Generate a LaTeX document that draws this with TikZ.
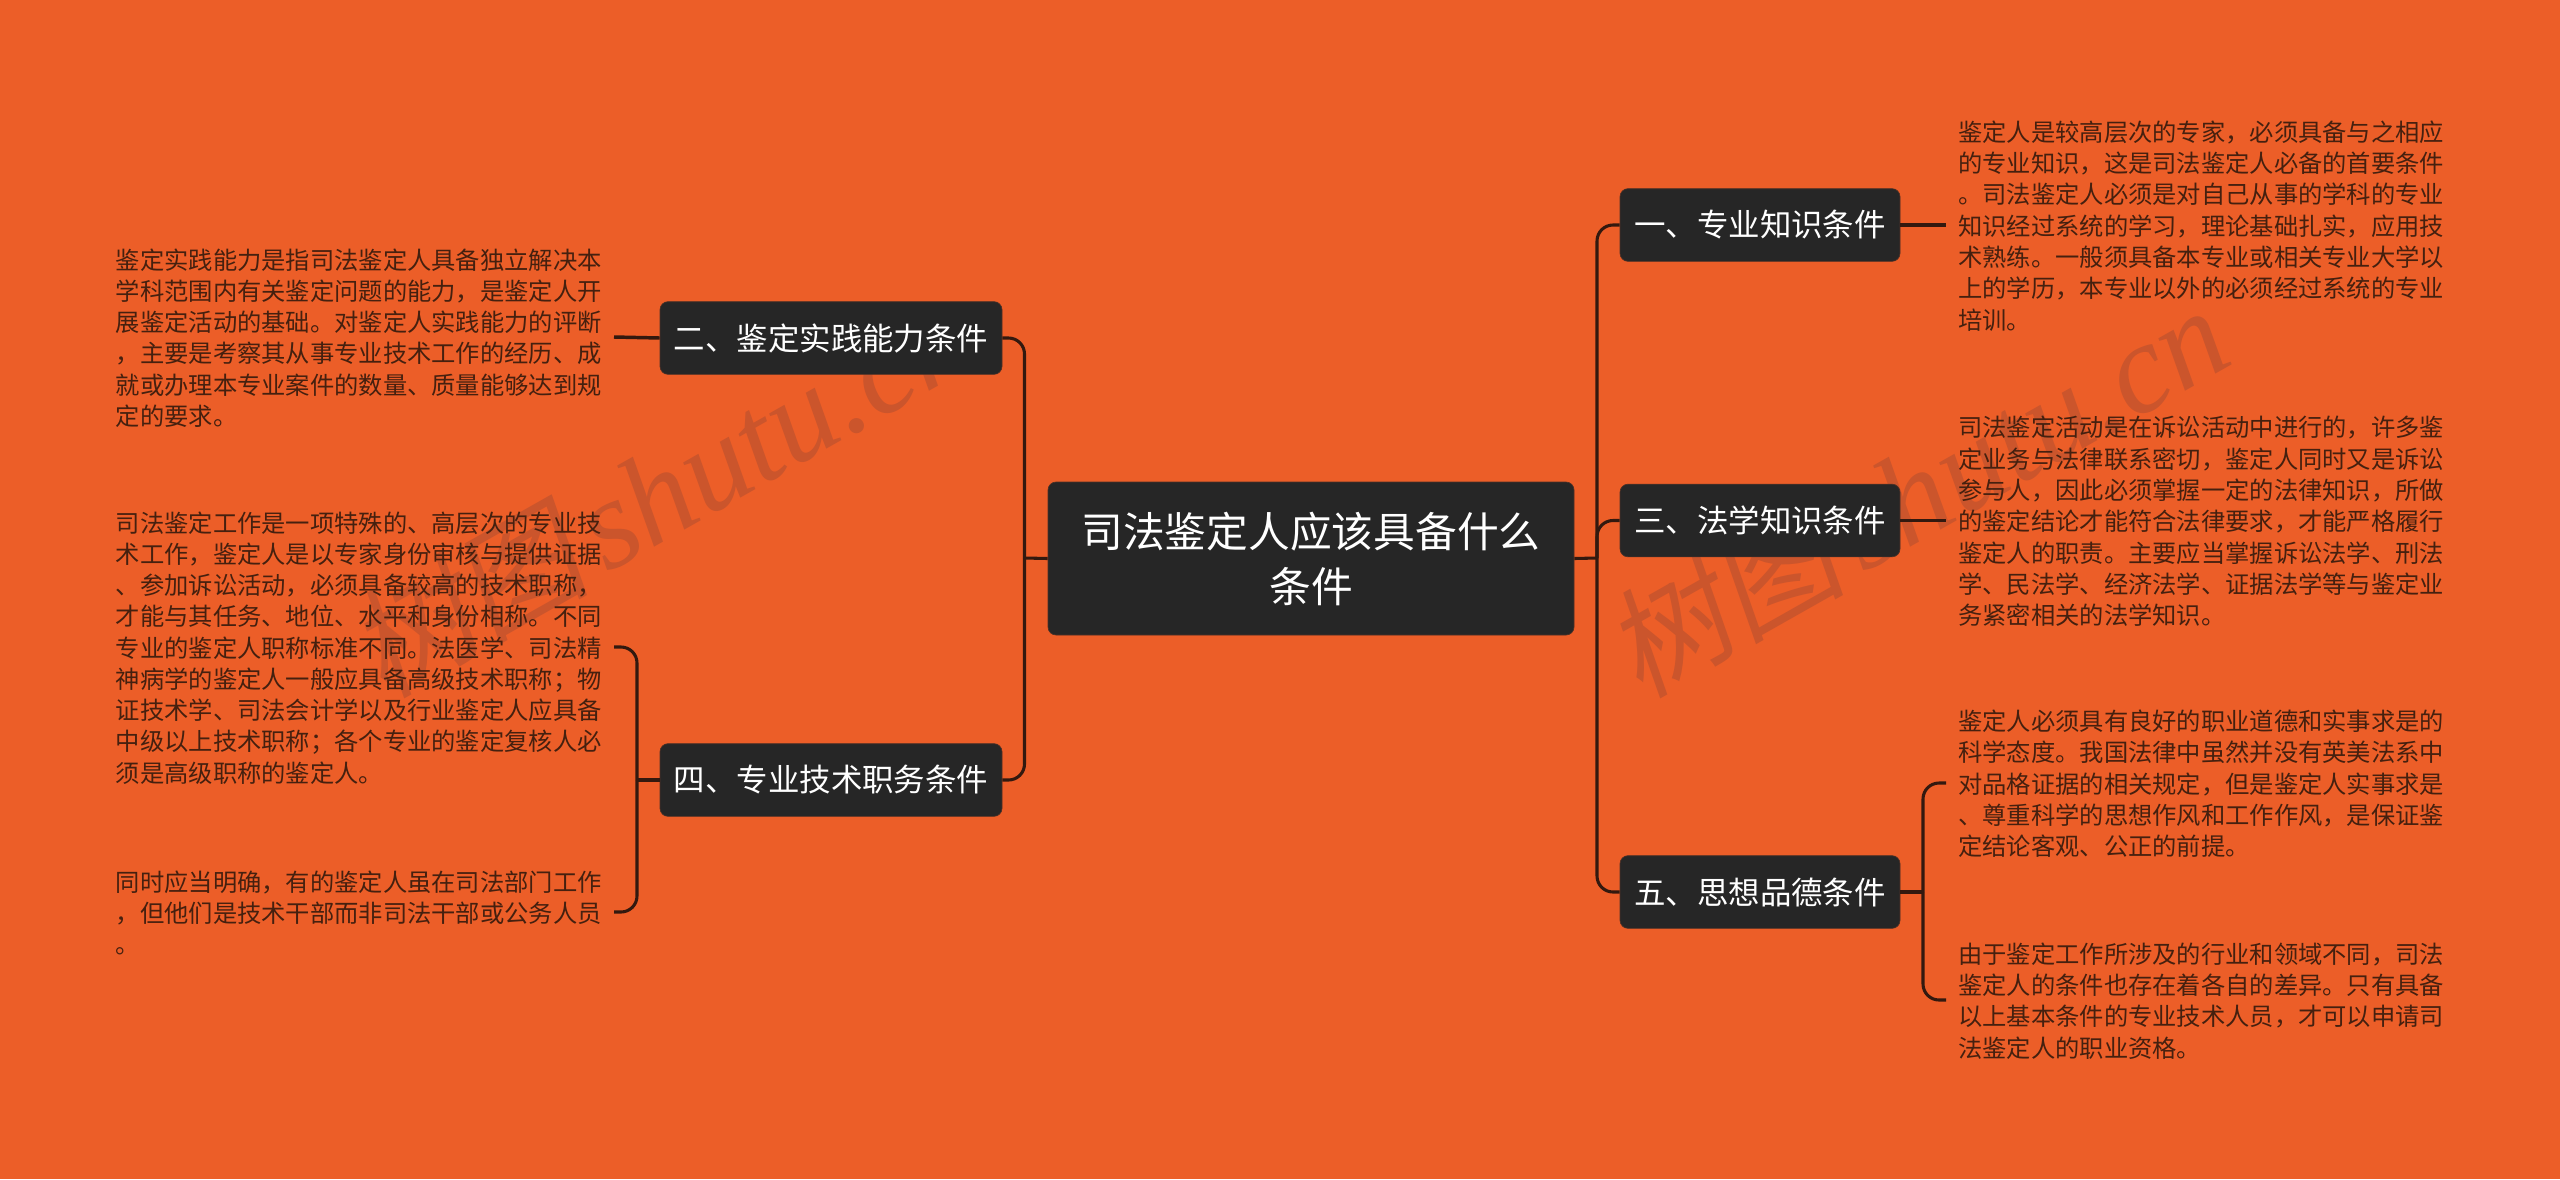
\documentclass[tikz,border=0pt]{standalone}
\usepackage{fontspec}
\setmainfont{Noto Sans CJK SC}
\newfontfamily\wmcjk[FakeSlant=0.18]{Noto Sans CJK SC}
\newfontfamily\wmlat{Liberation Serif}
\definecolor{bgc}{HTML}{EC5E28}
\definecolor{nodefill}{HTML}{262626}
\definecolor{wire}{HTML}{33190F}
\definecolor{leaftxt}{HTML}{45200F}
\definecolor{markc}{HTML}{CB552C}
\newcommand{\wmtext}{{\wmcjk 树图}\hspace{12pt}{\fontsize{96}{96}\selectfont\wmlat\itshape shutu.cn}}
\tikzset{
  rootbox/.style={rectangle,rounded corners=6pt,fill=nodefill,draw=nodefill!80!bgc,line width=0.5pt,text=white,
    minimum width=394.5pt,minimum height=114.75pt,inner sep=0pt,align=center,
    font=\fontsize{31.3}{41.25}\selectfont},
  branchbox/.style={rectangle,rounded corners=6pt,fill=nodefill,draw=nodefill!80!bgc,line width=0.5pt,text=white,
    minimum height=54.5pt,inner sep=0pt,font=\fontsize{23.6}{28}\selectfont},
  leftbranch/.style={branchbox,minimum width=256.5pt},
  rightbranch/.style={branchbox,minimum width=210pt},
  leaftext/.style={rectangle,inner ysep=0pt,inner xsep=9pt,align=left,text=leaftxt,
    font=\fontsize{18.22}{23.44}\selectfont},
  leafright/.style={leaftext,anchor=west},
  leafleft/.style={leaftext,anchor=east},
  wirestyle/.style={draw=wire,line width=2.3pt},
  elbow/.style={wirestyle,rounded corners=12pt},
  stub/.style={draw=wire,line width=2.6pt},
  markstyle/.style={text=markc,anchor=base west,rotate=29.5,inner sep=0pt,font=\fontsize{90}{90}\selectfont}
}
\newcommand{\ltop}{\rule{0pt}{16.8pt}}
\begin{document}
\begin{tikzpicture}[x=0.75pt,y=-0.75pt]
\fill[bgc] (0,0) rectangle (2560,1179);
\useasboundingbox (0,0) rectangle (2560,1179);
% watermarks
\node[markstyle] (mkr) at (1640,700) {\wmtext};
\node[markstyle] (mkl) at (384,700) {\wmtext};
% coordinates of the spines
\coordinate (rsp) at (1597,558);
\coordinate (lsp) at (1024.5,558);
\coordinate (fsp) at (1923,892);
\coordinate (ssp) at (637,780);
% nodes
\node[rootbox] (root) at (1311,558.5) {司法鉴定人应该具备什么\\条件};
\node[leftbranch] (b2) at (831,338) {二、鉴定实践能力条件};
\node[leftbranch] (b4) at (831,780) {四、专业技术职务条件};
\node[rightbranch] (b1) at (1760,225) {一、专业知识条件};
\node[rightbranch] (b3) at (1760,520.5) {三、法学知识条件};
\node[rightbranch] (b5) at (1760,892) {五、思想品德条件};
% leaves
\node[leafleft] (l2) at (614,337) {\ltop 鉴定实践能力是指司法鉴定人具备独立解决本\\
学科范围内有关鉴定问题的能力，是鉴定人开\\
展鉴定活动的基础。对鉴定人实践能力的评断\\
，主要是考察其从事专业技术工作的经历、成\\
就或办理本专业案件的数量、质量能够达到规\\
定的要求。};
\node[leafleft] (l4a) at (614,647) {\ltop 司法鉴定工作是一项特殊的、高层次的专业技\\
术工作，鉴定人是以专家身份审核与提供证据\\
、参加诉讼活动，必须具备较高的技术职称，\\
才能与其任务、地位、水平和身份相称。不同\\
专业的鉴定人职称标准不同。法医学、司法精\\
神病学的鉴定人一般应具备高级技术职称；物\\
证技术学、司法会计学以及行业鉴定人应具备\\
中级以上技术职称；各个专业的鉴定复核人必\\
须是高级职称的鉴定人。};
\node[leafleft] (l4b) at (614,912) {\ltop 同时应当明确，有的鉴定人虽在司法部门工作\\
，但他们是技术干部而非司法干部或公务人员\\
。};
\node[leafright] (l1) at (1946,225) {\ltop 鉴定人是较高层次的专家，必须具备与之相应\\
的专业知识，这是司法鉴定人必备的首要条件\\
。司法鉴定人必须是对自己从事的学科的专业\\
知识经过系统的学习，理论基础扎实，应用技\\
术熟练。一般须具备本专业或相关专业大学以\\
上的学历，本专业以外的必须经过系统的专业\\
培训。};
\node[leafright] (l3) at (1946,520.5) {\ltop 司法鉴定活动是在诉讼活动中进行的，许多鉴\\
定业务与法律联系密切，鉴定人同时又是诉讼\\
参与人，因此必须掌握一定的法律知识，所做\\
的鉴定结论才能符合法律要求，才能严格履行\\
鉴定人的职责。主要应当掌握诉讼法学、刑法\\
学、民法学、经济法学、证据法学等与鉴定业\\
务紧密相关的法学知识。};
\node[leafright] (l5a) at (1946,783) {\ltop 鉴定人必须具有良好的职业道德和实事求是的\\
科学态度。我国法律中虽然并没有英美法系中\\
对品格证据的相关规定，但是鉴定人实事求是\\
、尊重科学的思想作风和工作作风，是保证鉴\\
定结论客观、公正的前提。};
\node[leafright] (l5b) at (1946,1000) {\ltop 由于鉴定工作所涉及的行业和领域不同，司法\\
鉴定人的条件也存在着各自的差异。只有具备\\
以上基本条件的专业技术人员，才可以申请司\\
法鉴定人的职业资格。};
% connectors
\draw[wirestyle] (root.east) -- (rsp);
\draw[wirestyle] (root.west) -- (lsp);
\draw[elbow] (rsp) |- (b1.west);
\draw[elbow] (rsp) |- (b3.west);
\draw[elbow] (rsp) |- (b5.west);
\draw[elbow] (lsp) |- (b2.east);
\draw[elbow] (lsp) |- (b4.east);
\draw[stub] (b1.east) -- (l1.west);
\draw[stub] (b3.east) -- (l3.west);
\draw[stub] (b2.west) -- (l2.east);
\draw[wirestyle] (b5.east) -- (fsp);
\draw[elbow] (fsp) |- (l5a.west);
\draw[elbow] (fsp) |- (l5b.west);
\draw[wirestyle] (b4.west) -- (ssp);
\draw[elbow] (ssp) |- (l4a.east);
\draw[elbow] (ssp) |- (l4b.east);
\end{tikzpicture}
\end{document}
